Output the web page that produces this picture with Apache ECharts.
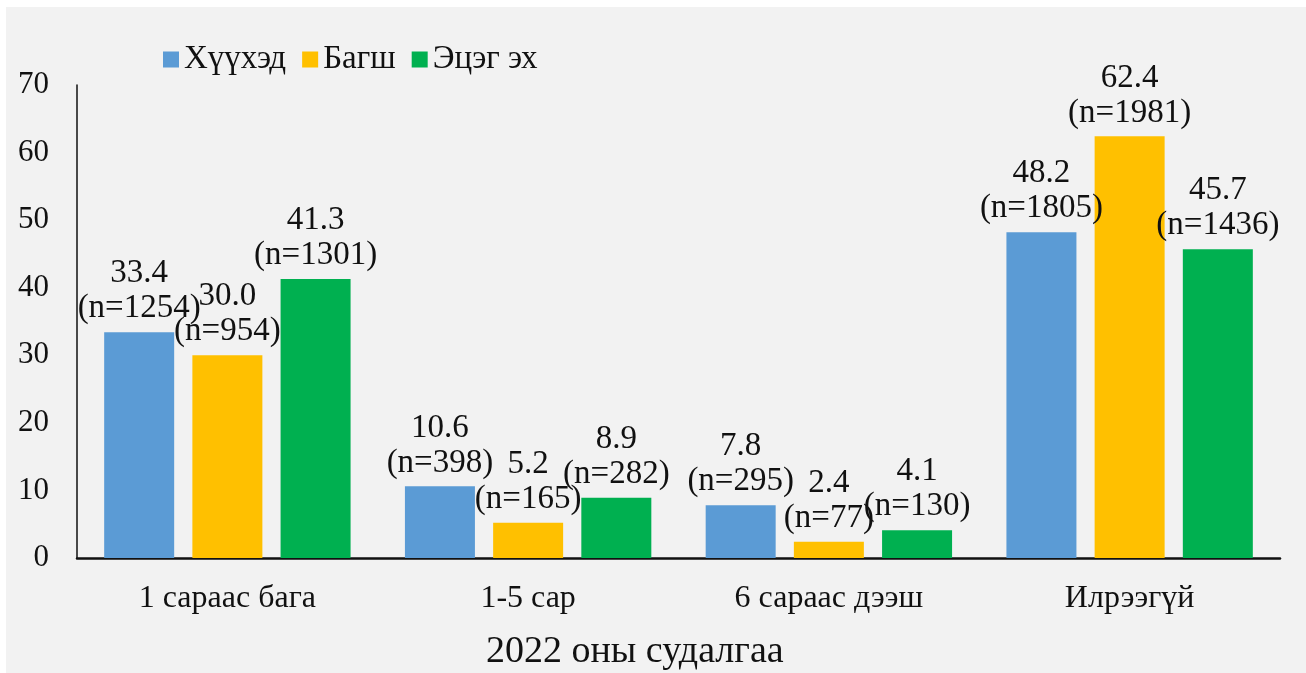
<!DOCTYPE html>
<html>
<head>
<meta charset="utf-8">
<script src="https://cdn.jsdelivr.net/npm/echarts@6/dist/echarts.min.js"></script>
<style>
  html, body { margin: 0; padding: 0; background: #fff; }
  #chart { position: absolute; left: 6px; top: 7px; width: 1300px; height: 666px; }
</style>
</head>
<body>
<div id="chart"></div>
<script>
// категориуд ба утгууд
const categories = ['1 сараас бага', '1-5 сар', '6 сараас дээш', 'Илрээгүй'];
const seriesNames = ['Хүүхэд', 'Багш', 'Эцэг эх'];
const childVals = [33.4, 10.6, 7.8, 48.2];
const teacherVals = [30.0, 5.2, 2.4, 62.4];
const parentVals = [41.3, 8.9, 4.1, 45.7];
const childN = [1254, 398, 295, 1805];
const teacherN = [954, 165, 77, 1981];
const parentN = [1301, 282, 130, 1436];
const yTicks = [0, 10, 20, 30, 40, 50, 60, 70];
const colors = ['#5b9bd5', '#ffc000', '#00b050'];

const font = '"Liberation Serif", "Times New Roman", serif';

const chart = echarts.init(document.getElementById('chart'));

function makeSeries(name, vals, ns, color) {
  return {
    name: name,
    type: 'bar',
    barWidth: 70,
    barGap: '26%',
    itemStyle: { color: color },
    label: {
      show: true,
      position: 'top',
      distance: 6,
      fontFamily: font,
      fontSize: 33,
      lineHeight: 35,
      color: '#111',
      formatter: p => vals[p.dataIndex].toFixed(1) + '\n(n=' + ns[p.dataIndex] + ')'
    },
    data: vals
  };
}

chart.setOption({
  backgroundColor: '#f2f2f2',
  animation: false,
  textStyle: { fontFamily: font },
  title: {
    text: '2022 оны судалгаа',
    left: 475,
    top: 621,
    textStyle: { fontFamily: font, fontSize: 38, fontWeight: 'normal', color: '#111' }
  },
  legend: {
    left: 152,
    top: 31,
    itemWidth: 16,
    itemHeight: 16,
    itemGap: 16,
    icon: 'rect',
    textStyle: { fontFamily: font, fontSize: 33, color: '#111' },
    data: seriesNames
  },
  grid: { left: 71, right: 26, top: 78, bottom: 115 },
  xAxis: {
    type: 'category',
    data: categories,
    axisLine: { lineStyle: { color: '#111', width: 2.5 } },
    axisTick: { show: false },
    axisLabel: { fontFamily: font, fontSize: 32, color: '#111', margin: 25 }
  },
  yAxis: {
    type: 'value',
    min: yTicks[0],
    max: yTicks[yTicks.length - 1],
    interval: 10,
    axisLine: { show: true, lineStyle: { color: '#111', width: 1.5 } },
    axisTick: { show: false },
    splitLine: { show: false },
    axisLabel: { fontFamily: font, fontSize: 31, color: '#111', margin: 28 }
  },
  series: [
    makeSeries(seriesNames[0], childVals, childN, colors[0]),
    makeSeries(seriesNames[1], teacherVals, teacherN, colors[1]),
    makeSeries(seriesNames[2], parentVals, parentN, colors[2])
  ]
});
</script>
</body>
</html>
